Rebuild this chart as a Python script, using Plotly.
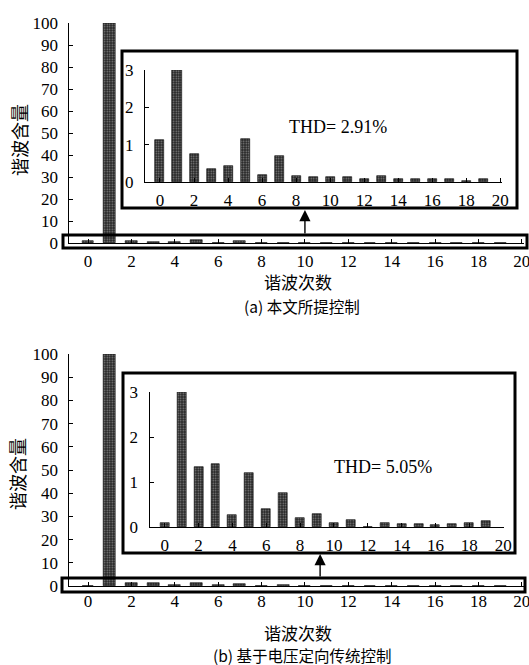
import plotly.graph_objects as go

W, H = 529, 665

# ---------------- data ----------------
orders = list(range(20))
harm_a = [1.13, 100, 0.75, 0.34, 0.42, 1.15, 0.18, 0.70, 0.17, 0.125,
          0.125, 0.13, 0.08, 0.17, 0.08, 0.07, 0.09, 0.09, 0.04, 0.09]
harm_b = [0.10, 100, 1.33, 1.41, 0.27, 1.19, 0.41, 0.76, 0.20, 0.30,
          0.09, 0.16, 0.01, 0.09, 0.06, 0.07, 0.04, 0.06, 0.09, 0.13]
thd_a = "THD= 2.91%"
thd_b = "THD= 5.05%"
main_yticks = list(range(0, 101, 10))
inset_yticks = [0, 1, 2, 3]
xticks = list(range(0, 21, 2))
ytitle = "谐波含量"
xtitle = "谐波次数"
cap_a = "(a) 本文所提控制"
cap_b = "(b) 基于电压定向传统控制"


def fx(p):
    return p / W


def fy(p):
    return 1 - p / H


SERIF = "Liberation Serif, Times New Roman, serif"
CJK = "Noto Sans CJK SC"

fig = go.Figure()

bar_marker = dict(color="#303030",
                  line=dict(color="black", width=0.6),
                  pattern=dict(shape=".", fillmode="replace", bgcolor="#262626",
                               fgcolor="#8a8a8a", size=2.5, solidity=0.3))

for vals, xa, ya, w in [(harm_a, "x", "y", 0.55), (harm_a, "x2", "y2", 0.53),
                        (harm_b, "x3", "y3", 0.55), (harm_b, "x4", "y4", 0.53)]:
    fig.add_trace(go.Bar(x=orders, y=vals, xaxis=xa, yaxis=ya, width=w,
                         marker=bar_marker, showlegend=False, hoverinfo="x+y"))

tickfont = dict(family=SERIF, size=17, color="black")


def xax(domain, rng, anchor, standoff):
    return dict(domain=domain, range=rng, anchor=anchor, tickvals=xticks,
                showline=True, linecolor="black", linewidth=1, ticks="inside",
                ticklen=4, tickcolor="black", showgrid=False, zeroline=False,
                tickfont=tickfont, ticklabelstandoff=standoff, fixedrange=True,
                automargin=False, ticklabeloverflow="allow")


def yax(domain, rng, anchor, tv, standoff):
    return dict(domain=domain, range=rng, anchor=anchor, tickvals=tv,
                showline=True, linecolor="black", linewidth=1, ticks="inside",
                ticklen=4, tickcolor="black", showgrid=False, zeroline=False,
                tickfont=tickfont, ticklabelstandoff=standoff, fixedrange=True,
                automargin=False, ticklabeloverflow="allow")


# main axes: 0 at x=88, 21.7 px/unit
mx_dom = [fx(68.5), fx(524)]
mx_rng = [-0.9, 20.1]

layout = dict(
    width=W, height=H, margin=dict(l=0, r=0, t=0, b=0, autoexpand=False),
    paper_bgcolor="white", plot_bgcolor="rgba(0,0,0,0)", bargap=0,
    xaxis=xax(mx_dom, mx_rng, "y", 3),
    yaxis=yax([fy(243), fy(23)], [0, 100], "x", main_yticks, 6),
    xaxis2=xax([fx(145), fx(502)], [-0.88, 20.1], "y2", 3),
    yaxis2=yax([fy(182), fy(70)], [0, 3], "x2", inset_yticks, 7),
    xaxis3=xax(mx_dom, mx_rng, "y3", 0),
    yaxis3=yax([fy(586), fy(354)], [0, 100], "x3", main_yticks, 6),
    xaxis4=xax([fx(149.5), fx(504)], [-0.9, 20.05], "y4", 3),
    yaxis4=yax([fy(527), fy(392)], [0, 3], "x4", inset_yticks, 7),
)
fig.update_layout(**layout)

shapes = []
for (x0, y0, x1, y1) in [(63, 235, 527, 248), (122, 51, 517, 208),
                         (62, 578, 525, 592), (123, 373, 515, 553)]:
    shapes.append(dict(type="rect", xref="paper", yref="paper",
                       x0=fx(x0), x1=fx(x1), y0=fy(y1), y1=fy(y0),
                       line=dict(color="black", width=3), fillcolor="rgba(0,0,0,0)"))
fig.update_layout(shapes=shapes)

ann = []
# arrows from main box up to inset
for xa, xv, tip, tail in [("x", 10, 210, 235), ("x3", 10.7, 554, 578)]:
    ann.append(dict(xref=xa, yref="paper", x=xv, y=fy(tip), ax=0, ay=tail - tip,
                    axref="pixel", ayref="pixel", showarrow=True, arrowhead=2,
                    arrowsize=1.6, arrowwidth=1.4, arrowcolor="black", text=""))


def label(xp, yp, text, family, size, angle=0):
    return dict(xref="paper", yref="paper", x=fx(xp), y=fy(yp), text=text,
                xanchor="center", yanchor="middle", textangle=angle,
                showarrow=False, font=dict(family=family, size=size, color="black"))


# THD labels
ann.append(label(338, 127, thd_a, SERIF, 18))
ann.append(label(383, 467, thd_b, SERIF, 18))
# y titles
ann.append(label(19, 140, ytitle, CJK, 18, -90))
ann.append(label(17, 474, ytitle, CJK, 18, -90))
# x titles and captions
ann.append(label(298, 282, xtitle, CJK, 17))
ann.append(label(298, 632, xtitle, CJK, 17))
ann.append(label(302, 306, cap_a, CJK, 15.5))
ann.append(label(302, 655, cap_b, CJK, 15.5))
fig.update_layout(annotations=ann)

fig.write_html("out.html", config={"displayModeBar": False})

# remove the default page margin so the figure sits at the window's top-left
with open("out.html", encoding="utf-8") as f:
    html = f.read()
html = html.replace("<head>", "<head><style>html,body{margin:0;padding:0;overflow:hidden}</style>", 1)
with open("out.html", "w", encoding="utf-8") as f:
    f.write(html)
